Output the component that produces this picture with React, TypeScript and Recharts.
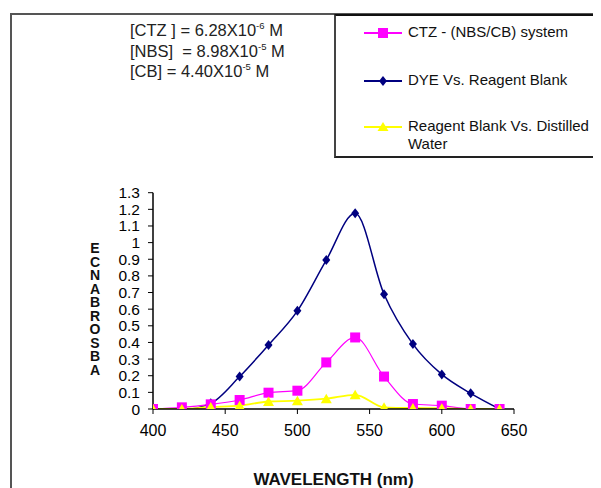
import React from 'react';
import { LineChart, Line, XAxis, YAxis, Legend } from 'recharts';

const wavelengths = [400, 420, 440, 460, 480, 500, 520, 540, 560, 580, 600, 620, 640];
const ctzSystem = [0, 0.01, 0.028, 0.054, 0.098, 0.11, 0.28, 0.43, 0.195, 0.03, 0.02, 0.0, 0.0];
const dyeVsBlank = [0, -0.004, 0.034, 0.195, 0.385, 0.59, 0.895, 1.176, 0.69, 0.39, 0.208, 0.094, 0.0];
const blankVsWater = [0, 0, 0.012, 0.02, 0.045, 0.05, 0.062, 0.085, 0.01, 0.006, 0.005, 0.0, 0.0];

const xTicks = [400, 450, 500, 550, 600, 650];
const yTicks = [0, 0.1, 0.2, 0.3, 0.4, 0.5, 0.6, 0.7, 0.8, 0.9, 1, 1.1, 1.2, 1.3];

const seriesNames = ['CTZ - (NBS/CB) system', 'DYE Vs. Reagent Blank', 'Reagent Blank Vs. Distilled Water'];
const seriesColors = ['#FF00FF', '#000080', '#FFFF00'];
const annotationLines = [
  { pre: '[CTZ ] = 6.28X10', exp: '-6', post: ' M' },
  { pre: '[NBS]  = 8.98X10', exp: '-5', post: ' M' },
  { pre: '[CB] = 4.40X10', exp: '-5', post: ' M' },
];
const yTitle = 'ABSORBANCE';
const xTitle = 'WAVELENGTH (nm)';

const data = wavelengths.map((w, i) => ({
  w,
  ctz: ctzSystem[i],
  dye: dyeVsBlank[i],
  blank: blankVsWater[i],
}));

const FONT = '"Liberation Sans", Arial, sans-serif';

const Square = (props: any) => {
  const { cx, cy, fill } = props;
  if (cx == null || cy == null) return null;
  return <rect x={cx - 5} y={cy - 5} width={10} height={10} fill={fill} />;
};
const Diamond = (props: any) => {
  const { cx, cy, fill } = props;
  if (cx == null || cy == null) return null;
  return <polygon points={`${cx},${cy - 5} ${cx + 4},${cy} ${cx},${cy + 5} ${cx - 4},${cy}`} fill={fill} />;
};
const Triangle = (props: any) => {
  const { cx, cy, fill } = props;
  if (cx == null || cy == null) return null;
  return <polygon points={`${cx},${cy - 5} ${cx + 5.5},${cy + 4.5} ${cx - 5.5},${cy + 4.5}`} fill={fill} />;
};

const icon = (i: number) => {
  const c = seriesColors[i];
  let m: React.ReactNode;
  if (i === 0) m = <rect x={14} y={1} width={10} height={10} fill={c} />;
  else if (i === 1) m = <polygon points="19,1 23,6 19,11 15,6" fill={c} />;
  else m = <polygon points="19,1 24.5,10 13.5,10" fill={c} />;
  return (
    <svg width={40} height={12} style={{ position: 'absolute', left: 0, top: -6 }}>
      <line x1={0} y1={6} x2={38} y2={6} stroke={c} strokeWidth={2} />
      {m}
    </svg>
  );
};

const renderLegend = () => {
  const tops = [17, 65, 111];
  return (
    <div
      style={{
        position: 'relative',
        width: 300,
        height: 140,
        borderLeft: '2px solid #444',
        borderTop: '2px solid #111',
        borderBottom: '2px solid #222',
        fontFamily: FONT,
        fontSize: 15,
        color: '#111',
      }}
    >
      {seriesNames.map((n, i) => (
        <div key={n} style={{ position: 'absolute', left: 28, top: tops[i] }}>
          {icon(i)}
          <div
            style={{
              position: 'absolute',
              left: 44,
              top: -10,
              width: 190,
              lineHeight: '18px',
              whiteSpace: 'normal',
            }}
          >
            {n}
          </div>
        </div>
      ))}
    </div>
  );
};

const YTitle = (props: any) => {
  const vb = props.viewBox || { x: 85 };
  const shown = yTitle.split('').reverse().join('');
  return (
    <text
      x={vb.x + 2}
      y={232}
      fontFamily={FONT}
      fontWeight="bold"
      fontSize={14}
      letterSpacing={-2.5}
      fill="#111"
      style={{ writingMode: 'vertical-rl', textOrientation: 'upright' } as any}
    >
      {shown}
    </text>
  );
};

export default function App() {
  return (
    <div style={{ position: 'relative', width: 593, height: 480, overflow: 'hidden', background: '#fff' }}>
      <div
        style={{
          position: 'absolute',
          left: 2,
          top: 5,
          width: 700,
          height: 600,
          borderLeft: '2px solid #555',
          borderTop: '2px solid #555',
        }}
      />
      <div
        style={{
          position: 'absolute',
          left: 122,
          top: 12,
          fontFamily: FONT,
          fontSize: 16.5,
          color: '#222',
          lineHeight: '20.5px',
        }}
      >
        {annotationLines.map((a, i) => (
          <div key={i} style={{ whiteSpace: 'pre', height: 20.5 }}>
            {a.pre}
            <span style={{ fontSize: 9.5, position: 'relative', top: -7, lineHeight: 0 }}>{a.exp}</span>
            {a.post}
          </div>
        ))}
      </div>
      <LineChart
        width={593}
        height={480}
        data={data}
        margin={{ top: 184.7, right: 87, bottom: 0, left: 85 }}
        style={{ position: 'absolute', left: 0, top: 0 }}
      >
        <XAxis
          dataKey="w"
          type="number"
          domain={[400, 650]}
          ticks={xTicks}
          allowDataOverflow
          height={79}
          axisLine={{ stroke: '#000', strokeWidth: 1.5 }}
          tickLine={{ stroke: '#000' }}
          tickSize={5}
          tickMargin={11}
          tick={{ fill: '#000', fontSize: 16, fontFamily: FONT }}
          label={{
            value: xTitle,
            position: 'insideBottom',
            offset: 3,
            fill: '#111',
            fontSize: 17,
            fontWeight: 'bold',
            fontFamily: FONT,
          }}
        />
        <YAxis
          type="number"
          domain={[0, 1.3]}
          ticks={yTicks}
          allowDataOverflow
          width={60}
          interval={0}
          axisLine={{ stroke: '#000', strokeWidth: 1.5 }}
          tickLine={{ stroke: '#000' }}
          tickSize={5}
          tickMargin={8}
          tick={{ fill: '#000', fontSize: 15.5, fontFamily: FONT }}
          label={<YTitle />}
        />
        <Legend
          layout="vertical"
          align="center"
          verticalAlign="middle"
          content={renderLegend}
          wrapperStyle={{ position: 'absolute', left: 326, top: 6, width: 300, height: 144 }}
        />
        <Line
          dataKey="dye"
          name={seriesNames[1]}
          type="monotone"
          stroke={seriesColors[1]}
          strokeWidth={1.5}
          dot={<Diamond fill={seriesColors[1]} />}
          isAnimationActive={false}
        />
        <Line
          dataKey="ctz"
          name={seriesNames[0]}
          type="monotone"
          stroke={seriesColors[0]}
          strokeWidth={1.2}
          dot={<Square fill={seriesColors[0]} />}
          isAnimationActive={false}
        />
        <Line
          dataKey="blank"
          name={seriesNames[2]}
          type="monotone"
          stroke={seriesColors[2]}
          strokeWidth={1.8}
          dot={<Triangle fill={seriesColors[2]} />}
          isAnimationActive={false}
        />
      </LineChart>
    </div>
  );
}
